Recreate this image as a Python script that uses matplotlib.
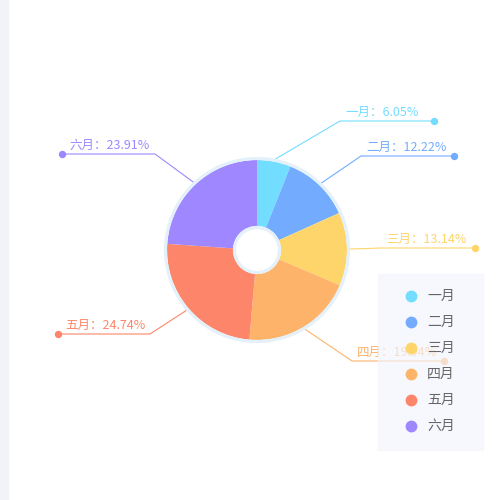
import numpy as np
import matplotlib
matplotlib.use("Agg")
import matplotlib.pyplot as plt
from matplotlib.patches import Circle, Rectangle

plt.rcParams['font.family'] = ['Noto Sans CJK SC', 'DejaVu Sans']

# data
months = ['一月', '二月', '三月', '四月', '五月', '六月']
values = [6.05, 12.22, 13.14, 19.94, 24.74, 23.91]
colors = ['#73DDFF', '#73ACFF', '#FDD56A', '#FDB36A', '#FD866A', '#9E87FF']

# label layout (pixel positions, y downwards)
label_y = [121, 156, 248, 361, 334, 154]
elbow_x = [340, 361, 381, 352, 150, 155]
dot_x = [434, 454, 475, 444, 58, 62]

cx, cy, R, r_in = 257, 250, 90, 24
ring = '#E4F1FA'

fig = plt.figure(figsize=(5, 5), dpi=100)
ax = fig.add_axes([0, 0, 1, 1])

wedges, _ = ax.pie(values, colors=colors, radius=R, center=(cx, cy),
                   startangle=-90, counterclock=True,
                   wedgeprops=dict(width=R - r_in, linewidth=0))
ax.set_xlim(0, 500)
ax.set_ylim(500, 0)
ax.set_aspect('equal')
ax.axis('off')

# left strip
ax.add_patch(Rectangle((0, 0), 8, 500, color='#F2F3F8', zorder=0))

# rings
ax.add_patch(Circle((cx, cy), R + 1.5, fill=False, ec=ring, lw=2.3, zorder=3))
ax.add_patch(Circle((cx, cy), r_in - 1.5, fc='white', ec=ring, lw=2.3, zorder=3))

# leader lines + labels
for w, m, v, c, ly, ex, dx in zip(wedges, months, values, colors, label_y, elbow_x, dot_x):
    mid = np.deg2rad((w.theta1 + w.theta2) / 2)
    sx = cx + (R + 2) * np.cos(mid)
    sy = cy + (R + 2) * np.sin(mid)
    ax.plot([sx, ex, dx], [sy, ly, ly], color=c, lw=0.8, zorder=2)
    ax.plot(dx, ly, 'o', color=c, ms=4.3, zorder=2)
    txt = '%s：%.2f%%' % (m, v)
    if dx > ex:
        ax.text(ex + 5, ly - 2, txt, color=c, fontsize=9, ha='left', va='bottom', zorder=2)
    else:
        ax.text(ex - 5, ly - 2, txt, color=c, fontsize=9, ha='right', va='bottom', zorder=2)

# legend box (semi transparent, drawn over the 四月 label like the original)
ax.add_patch(Rectangle((378, 274), 105, 176, color='#F3F5FD', alpha=0.65, zorder=5))
for i, (m, c) in enumerate(zip(months, colors)):
    y = 296 + i * 26
    ax.plot(411, y, 'o', color=c, ms=7.5, zorder=6)
    ax.text(427, y, m, color='#666666', fontsize=10, ha='left', va='center', zorder=6)

fig.savefig('out.png', dpi=100)
